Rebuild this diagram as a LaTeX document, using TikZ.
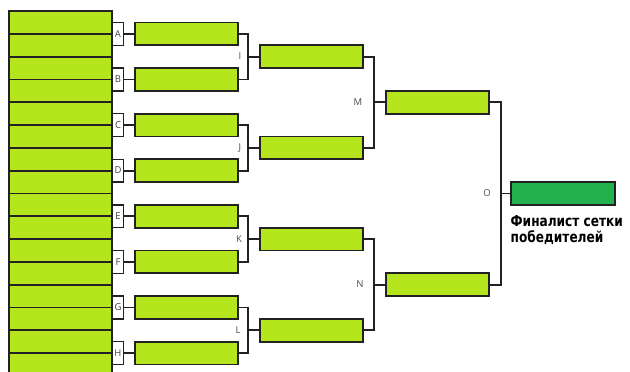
\documentclass[tikz,border=0pt]{standalone}
\usepackage{fontspec}
\usetikzlibrary{positioning}
\newfontfamily\tagfont{Open Sans}
\newfontfamily\finfont{DejaVu Sans Condensed Bold}
\definecolor{slotgreen}{HTML}{B5E61D}
\definecolor{finalgreen}{HTML}{22B14C}
\definecolor{linegray}{HTML}{222222}
\tikzset{
  slot/.style={draw=linegray, fill=slotgreen, line width=1.8pt,
               minimum width=103pt, minimum height=22.8pt, inner sep=0pt},
  tag/.style={draw=linegray, fill=white, line width=1.4pt,
              minimum width=11.5pt, minimum height=22.8pt, inner sep=0pt,
              font=\tagfont\fontsize{9.5}{9.5}\selectfont, text=black!75},
  wire/.style={draw=linegray, line width=1.8pt},
  rlab/.style={font=\tagfont\fontsize{9.5}{9.5}\selectfont, text=black!70,
               inner sep=1pt},
}

\begin{document}
\begin{tikzpicture}[x=1pt, y=-1pt]
\path[fill=white] (0,0) rectangle (630,372);
\useasboundingbox (0,0) rectangle (630,372);

% entry slots
\foreach \k in {0,...,15}
  \node[slot] (s\k) at (60.5, {11+22.8*(\k+0.5)}) {};

% first round tags
\node[tag] (tA) at (118,33.8) {A};
\node[tag] (tB) at (118,79.4) {B};
\node[tag] (tC) at (118,125) {C};
\node[tag] (tD) at (118,170.6) {D};
\node[tag] (tE) at (118,216.2) {E};
\node[tag] (tF) at (118,261.8) {F};
\node[tag] (tG) at (118,307.4) {G};
\node[tag] (tH) at (118,353) {H};

% first round winners
\node[slot] (rA) at (186.3,33.8) {};
\node[slot] (rB) at (186.3,79.4) {};
\node[slot] (rC) at (186.3,125) {};
\node[slot] (rD) at (186.3,170.6) {};
\node[slot] (rE) at (186.3,216.2) {};
\node[slot] (rF) at (186.3,261.8) {};
\node[slot] (rG) at (186.3,307.4) {};
\node[slot] (rH) at (186.3,353) {};

\draw[wire] (tA) -- (rA);
\draw[wire] (tB) -- (rB);
\draw[wire] (tC) -- (rC);
\draw[wire] (tD) -- (rD);
\draw[wire] (tE) -- (rE);
\draw[wire] (tF) -- (rF);
\draw[wire] (tG) -- (rG);
\draw[wire] (tH) -- (rH);

% second round
\node[slot] (rI) at (311.5,56.6) {};
\node[slot] (rJ) at (311.5,147.8) {};
\node[slot] (rK) at (311.5,239) {};
\node[slot] (rL) at (311.5,330.2) {};

\coordinate (jI) at (248.3,56.6);
\coordinate (jJ) at (248.3,147.8);
\coordinate (jK) at (248.3,239);
\coordinate (jL) at (248.3,330.2);

\draw[wire] (rA.east) -| (jI) |- (rB.east);
\draw[wire] (rC.east) -| (jJ) |- (rD.east);
\draw[wire] (rE.east) -| (jK) |- (rF.east);
\draw[wire] (rG.east) -| (jL) |- (rH.east);
\draw[wire] (jI) -- (rI);
\draw[wire] (jJ) -- (rJ);
\draw[wire] (jK) -- (rK);
\draw[wire] (jL) -- (rL);

\node[rlab] at (240,56.6) {I};
\node[rlab] at (240,147.8) {J};
\node[rlab] at (239,239) {K};
\node[rlab] at (238,330.2) {L};

% semi finals
\node[slot] (rM) at (437.5,102.2) {};
\node[slot] (rN) at (437.5,284.6) {};

\coordinate (jM) at (374.3,102.2);
\coordinate (jN) at (374.3,284.6);

\draw[wire] (rI.east) -| (jM) |- (rJ.east);
\draw[wire] (rK.east) -| (jN) |- (rL.east);
\draw[wire] (jM) -- (rM);
\draw[wire] (jN) -- (rN);

\node[rlab] at (358,102.2) {M};
\node[rlab] at (360,284.6) {N};

% final of the bracket
\node[slot, fill=finalgreen, minimum width=104.3pt] (fin) at (562.9,193.4) {};
\coordinate (jO) at (500.7,193.4);
\draw[wire] (rM.east) -| (jO) |- (rN.east);
\draw[wire] (jO) -- (fin);
\node[rlab] at (487,193.4) {O};

\node[anchor=north west, align=left, inner sep=0pt,
      font=\finfont\fontsize{15}{16}\selectfont]
  (winner) at (510.5,215)
  {\scalebox{0.9}[1]{Финалист сетки}\\\scalebox{0.9}[1]{победителей}};

\end{tikzpicture}
\end{document}
